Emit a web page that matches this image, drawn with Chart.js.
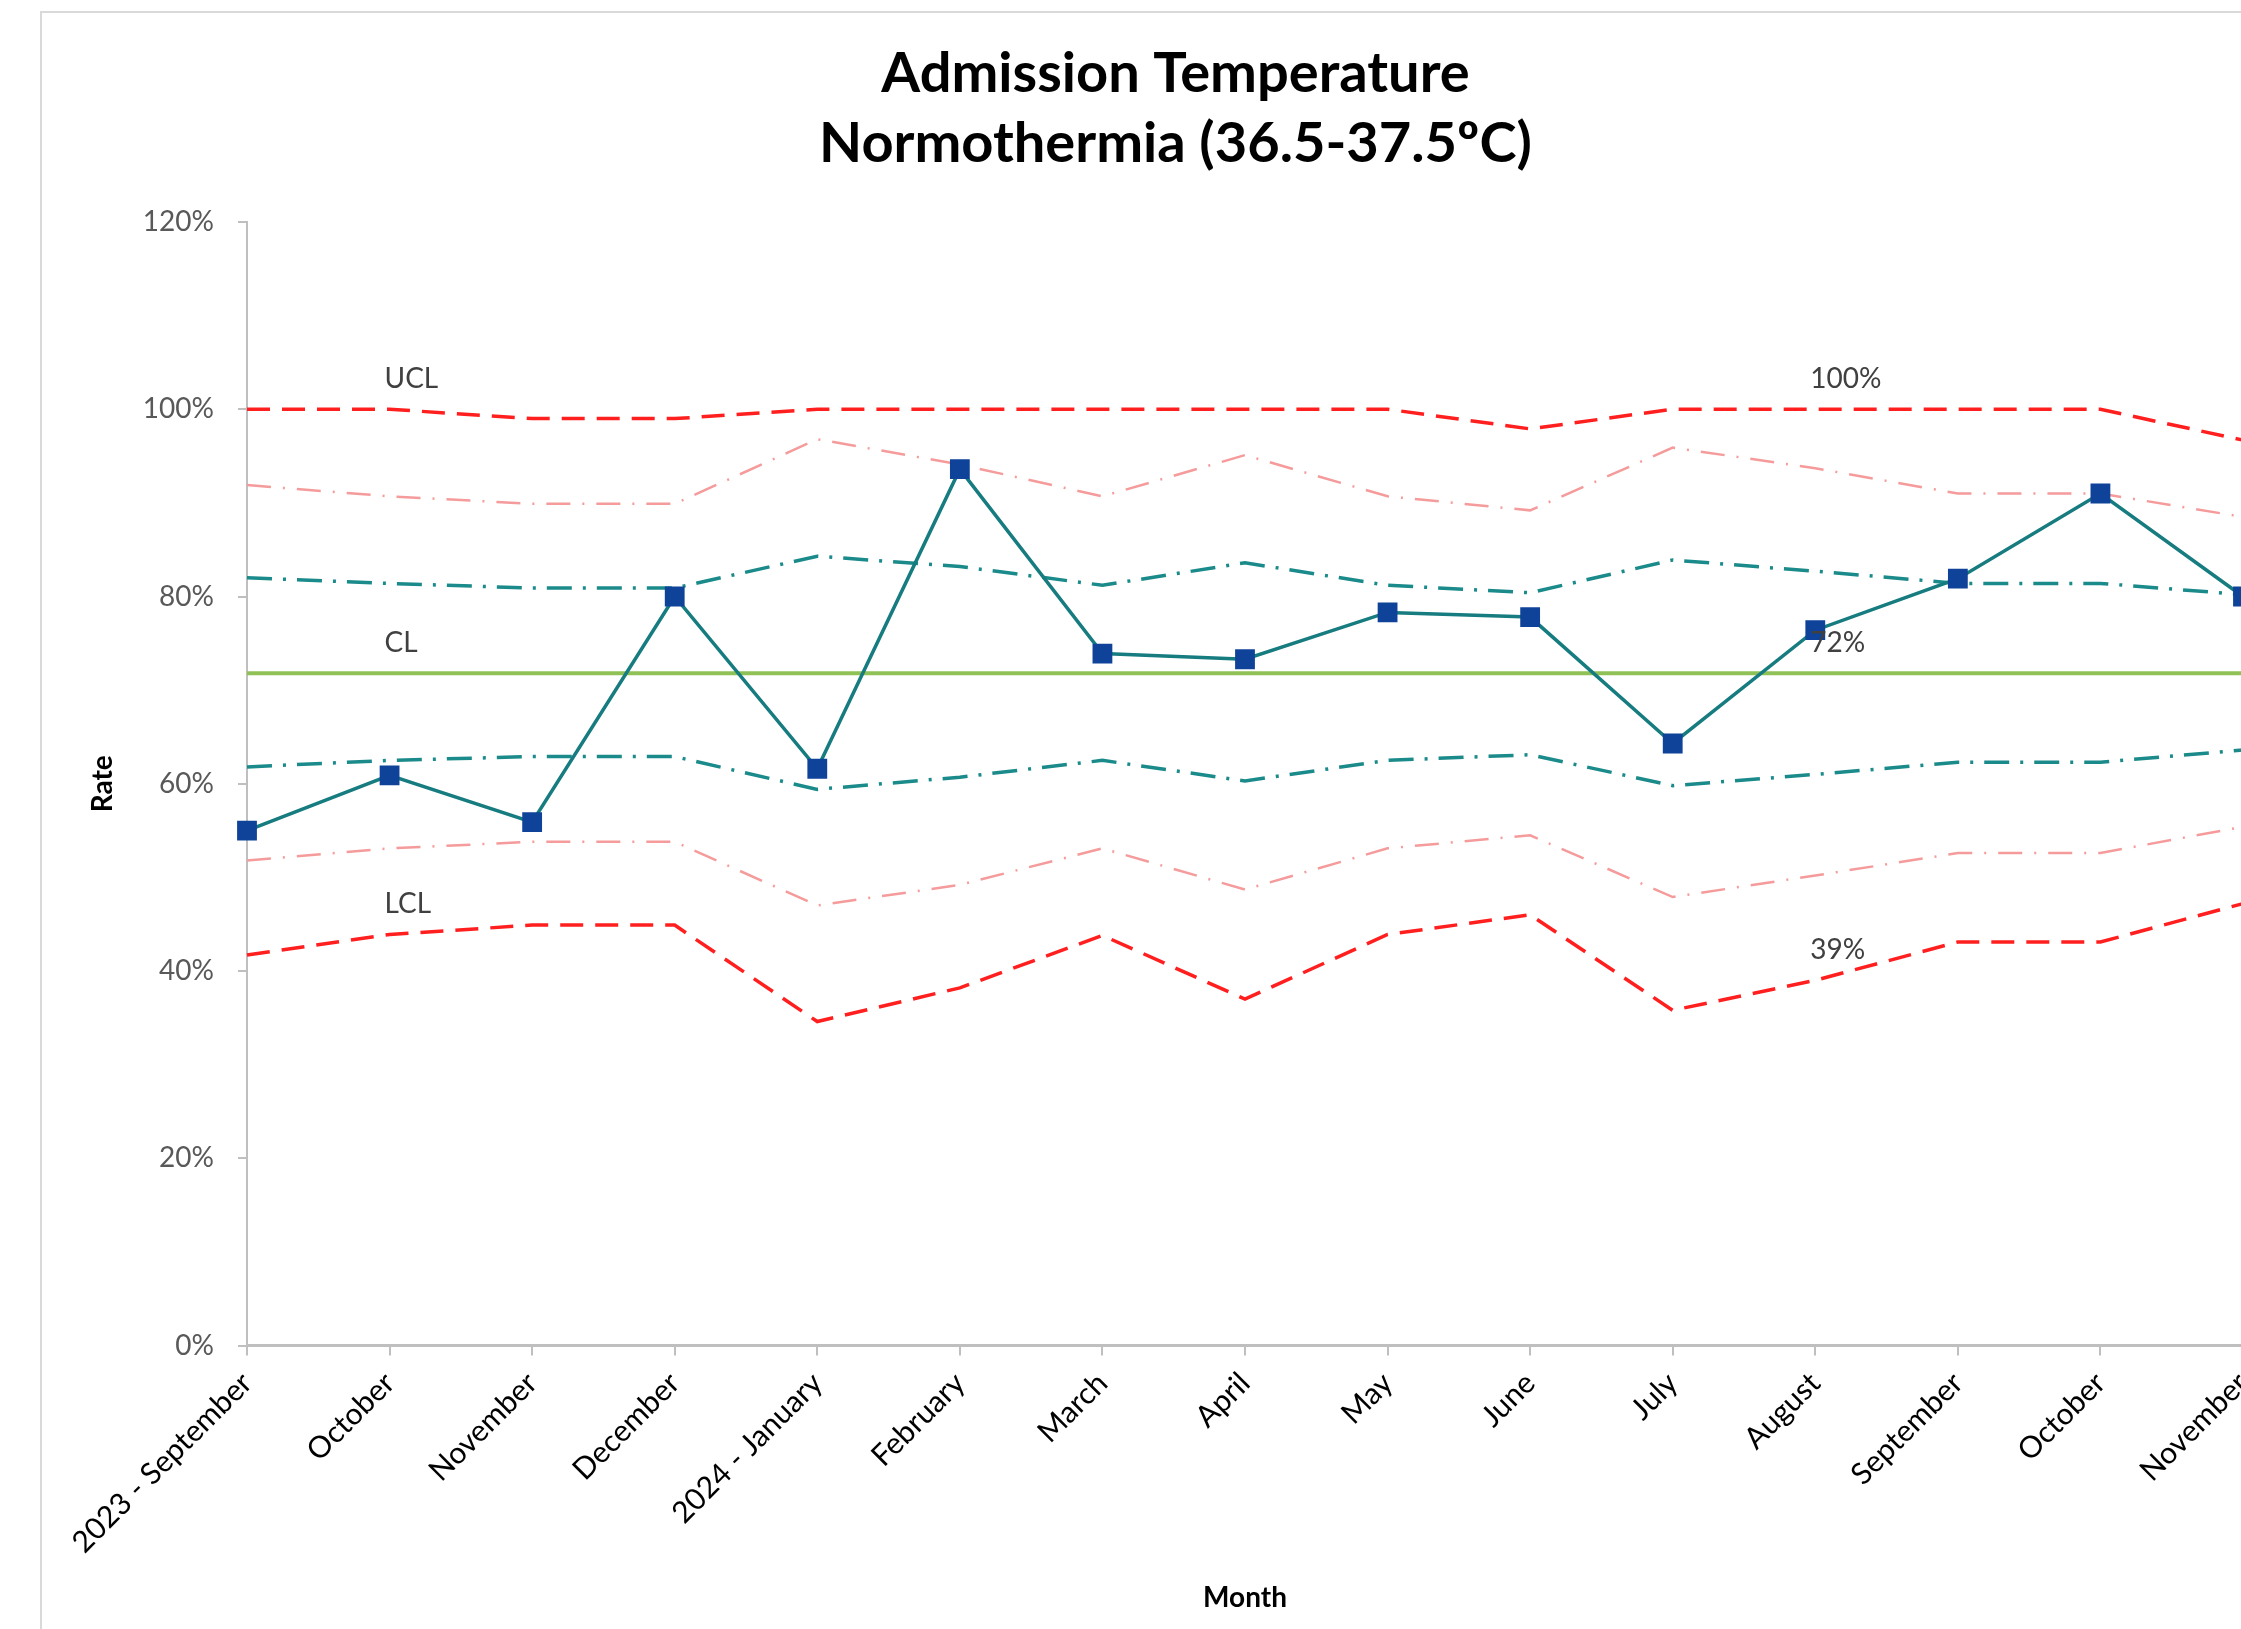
<!DOCTYPE html>
<html>
<head>
<meta charset="utf-8">
<script src="https://cdn.jsdelivr.net/npm/chart.js@4.4.1/dist/chart.umd.min.js"></script>
<style>
html, body { margin: 0; padding: 0; background: #fff; overflow: hidden; width: 2241px; height: 1629px; }
#frame { position: absolute; left: 40px; top: 11px; width: 2400px; height: 1800px; border-left: 2px solid #d9d9d9; border-top: 2px solid #d9d9d9; }
#wrap { position: absolute; left: 42px; top: 13px; width: 2260px; height: 1616px; }
</style>
</head>
<body>
<div id="frame"></div>
<div id="wrap"><canvas id="spc"></canvas></div>
<script>
const months = ['2023 - September', 'October', 'November', 'December', '2024 - January', 'February',
    'March', 'April', 'May', 'June', 'July', 'August', 'September', 'October', 'November'];

// monthly rate (%)
const rate   = [55.0, 60.9, 55.9, 80.0, 61.6, 93.6, 73.9, 73.3, 78.3, 77.8, 64.3, 76.4, 81.9, 91.0, 80.0];
// control limits (%)
const ucl    = [100, 100, 99.0, 99.0, 100, 100, 100, 100, 100, 97.9, 100, 100, 100, 100, 96.7];
const upper2 = [91.9, 90.7, 89.9, 89.9, 96.8, 94.1, 90.7, 95.1, 90.7, 89.2, 95.9, 93.7, 91.0, 91.0, 88.5];
const upper1 = [82.0, 81.4, 80.9, 80.9, 84.3, 83.2, 81.2, 83.6, 81.2, 80.4, 83.9, 82.7, 81.4, 81.4, 80.2];
const cl     = [71.8, 71.8, 71.8, 71.8, 71.8, 71.8, 71.8, 71.8, 71.8, 71.8, 71.8, 71.8, 71.8, 71.8, 71.8];
const lower1 = [61.8, 62.5, 62.9, 62.9, 59.4, 60.7, 62.5, 60.3, 62.5, 63.1, 59.8, 61.0, 62.3, 62.3, 63.6];
const lower2 = [51.8, 53.1, 53.8, 53.8, 47.0, 49.2, 53.1, 48.7, 53.1, 54.5, 47.9, 50.2, 52.6, 52.6, 55.4];
const lcl    = [41.7, 43.9, 44.9, 44.9, 34.6, 38.2, 43.8, 37.0, 43.9, 46.0, 35.8, 39.0, 43.1, 43.1, 47.2];

const yTicks = [0, 20, 40, 60, 80, 100, 120];

// name labels sit on the 2nd point, value labels on the 12th
const nameIdx = 1;
const valueIdx = 11;
const limitLabels = [
    { name: 'UCL', data: ucl },
    { name: 'CL', data: cl },
    { name: 'LCL', data: lcl }
];

const labelPlugin = {
    id: 'limitLabels',
    afterDatasetsDraw(chart) {
        const ctx = chart.ctx;
        const xs = chart.scales.x, ys = chart.scales.y;
        ctx.save();
        ctx.font = '28px Lato';
        ctx.fillStyle = '#404040';
        ctx.textAlign = 'left';
        ctx.textBaseline = 'alphabetic';
        limitLabels.forEach(l => {
            let px = xs.getPixelForValue(nameIdx), py = ys.getPixelForValue(l.data[nameIdx]);
            ctx.fillText(l.name, px - 5, py - 21);
            px = xs.getPixelForValue(valueIdx); py = ys.getPixelForValue(l.data[valueIdx]);
            ctx.fillText(Math.round(l.data[valueIdx]) + '%', px - 5, py - 21);
        });
        ctx.restore();
    }
};

function limitLine(data, color, width, dash) {
    return {
        data: data,
        borderColor: color,
        borderWidth: width,
        borderDash: dash,
        pointRadius: 0,
        fill: false,
        tension: 0
    };
}

const ctx = document.getElementById('spc').getContext('2d');
const spc = new Chart(ctx, {
    type: 'line',
    data: {
        labels: months,
        datasets: [
            {
                data: rate,
                borderColor: '#167C80',
                borderWidth: 3.5,
                pointStyle: 'rect',
                pointRadius: 14,
                pointBackgroundColor: '#0F4299',
                pointBorderColor: '#0F4299',
                pointBorderWidth: 0,
                tension: 0
            },
            limitLine(cl, '#8FC156', 4, []),
            limitLine(upper1, '#1B8A8A', 3.5, [25, 11, 3, 11]),
            limitLine(lower1, '#1B8A8A', 3.5, [25, 11, 3, 11]),
            limitLine(upper2, '#F59B9B', 2.5, [24, 12, 2, 12]),
            limitLine(lower2, '#F59B9B', 2.5, [24, 12, 2, 12]),
            limitLine(ucl, '#FF1F1F', 3.5, [23, 12]),
            limitLine(lcl, '#FF1F1F', 3.5, [23, 12])
        ]
    },
    options: {
        responsive: true,
        maintainAspectRatio: false,
        animation: false,
        layout: { padding: { left: 66, right: 59, top: 0, bottom: 0 } },
        plugins: {
            legend: { display: false },
            tooltip: { enabled: false },
            title: {
                display: true,
                text: ['Admission Temperature', 'Normothermia (36.5-37.5ºC)'],
                color: '#000',
                font: { family: 'Lato', size: 56, weight: 'bold', lineHeight: '70px' },
                padding: { top: 26, bottom: 43 }
            }
        },
        scales: {
            x: {
                offset: false,
                ticks: {
                    color: '#000',
                    font: { family: 'Lato', size: 30 },
                    minRotation: 45,
                    maxRotation: 45,
                    autoSkip: false,
                    padding: 10
                },
                grid: { drawOnChartArea: false, offset: false, tickLength: 10, color: '#BFBFBF', lineWidth: 2 },
                border: { color: '#BFBFBF', width: 3 },
                title: {
                    display: true,
                    text: 'Month',
                    color: '#000',
                    font: { family: 'Lato', size: 28, weight: 'bold' },
                    padding: { top: 0, bottom: 14 }
                },
                afterFit: s => { s.height = 283.5; s.paddingLeft = 0; s.paddingRight = 0; }
            },
            y: {
                min: 0,
                max: 120,
                afterBuildTicks: s => { s.ticks = yTicks.map(v => ({ value: v })); },
                ticks: {
                    color: '#595959',
                    font: { family: 'Lato', size: 28 },
                    padding: 24,
                    callback: v => v + '%'
                },
                grid: { drawOnChartArea: false, tickLength: 9, color: '#BFBFBF', lineWidth: 2 },
                border: { color: '#BFBFBF', width: 2 },
                title: {
                    display: true,
                    text: 'Rate',
                    color: '#000',
                    font: { family: 'Lato', size: 28, weight: 'bold' },
                    padding: { top: -22, bottom: 0 }
                },
                afterFit: s => { s.width = 139; s.paddingTop = 0; s.paddingBottom = 0; }
            }
        }
    },
    plugins: [labelPlugin]
});
</script>
</body>
</html>
